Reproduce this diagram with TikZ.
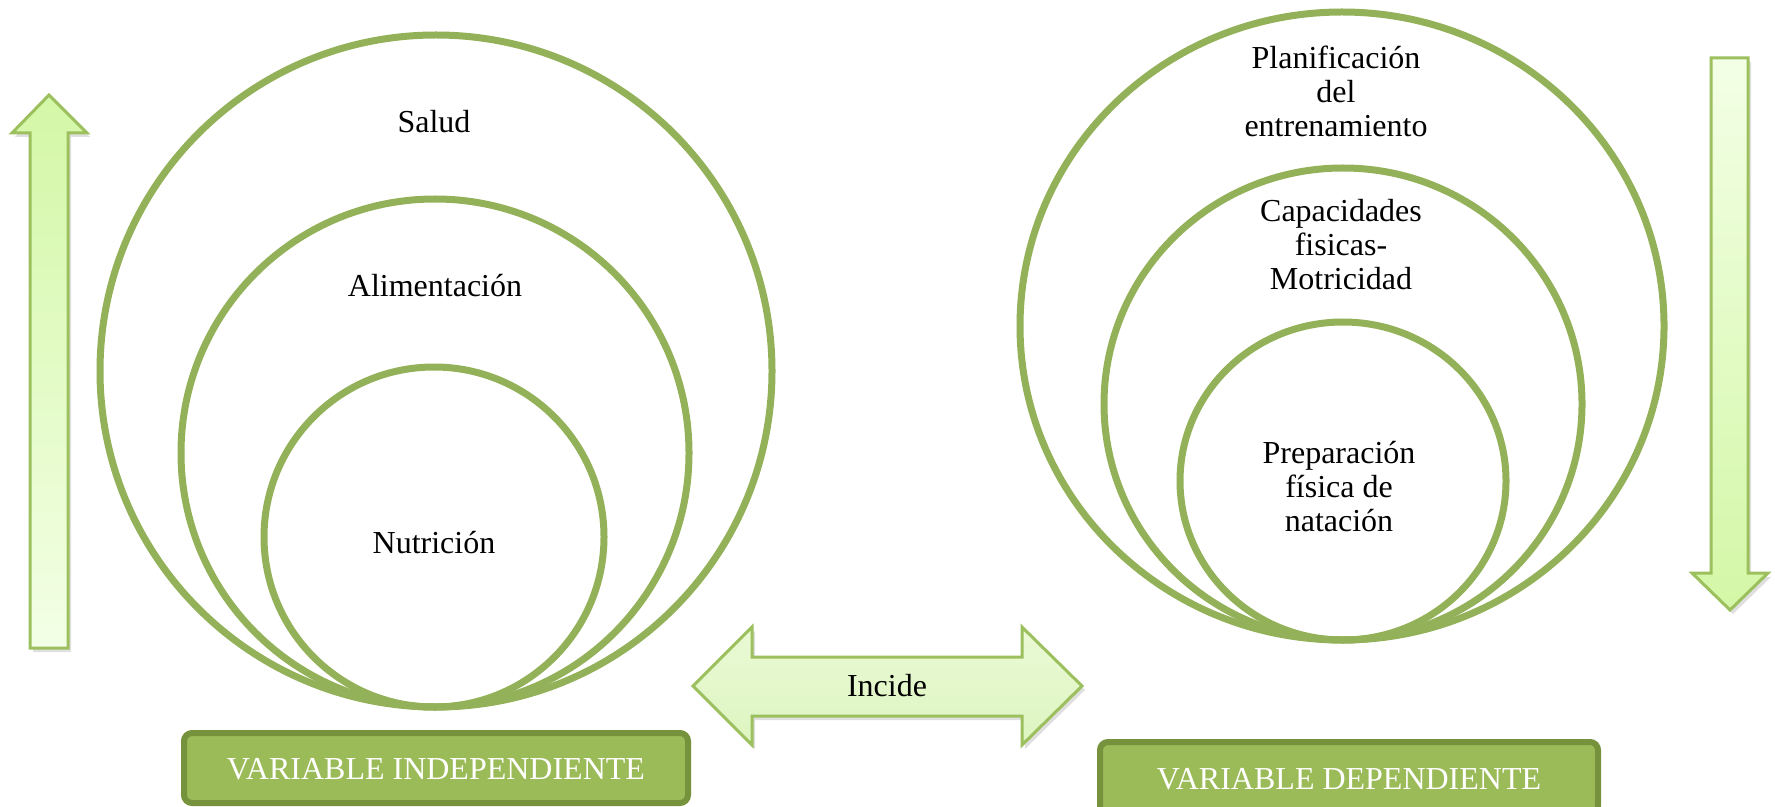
\documentclass[tikz,border=0pt]{standalone}
\usepackage{fontspec}
\setmainfont{Liberation Serif}
\usetikzlibrary{shadows}

\definecolor{ringgreen}{HTML}{93B158}
\definecolor{boxfill}{HTML}{9BBB59}
\definecolor{boxline}{HTML}{76923C}
\definecolor{arrowline}{HTML}{9DC05E}
\definecolor{arrowdark}{HTML}{D3F7A6}
\definecolor{arrowlight}{HTML}{F3FFE6}
\definecolor{incidetop}{HTML}{EAFAD5}
\definecolor{incidebot}{HTML}{DDF5C0}

\tikzset{
  ring/.style={draw=ringgreen,line width=3.5pt},
  txt/.style={font=\fontsize{16}{17}\selectfont,align=center,inner sep=0pt},
  varbox/.style={draw=boxline,fill=boxfill,line width=3pt,rounded corners=4pt},
  blockarrow/.style={draw=arrowline,line width=1.5pt,line join=miter,
    drop shadow={shadow xshift=1.5pt,shadow yshift=-2pt,opacity=.25}}
}

\begin{document}
\begin{tikzpicture}[x=0.5pt,y=-0.5pt]
\useasboundingbox (0,0) rectangle (1775,807);

% variable independiente
\begin{scope}
\coordinate (big) at (436,371);
\coordinate (mid) at (435,453);
\coordinate (small) at (434,537);

\draw[ring] (big) circle [radius=336];
\draw[ring] (mid) circle [radius=254];
\draw[ring] (small) circle [radius=170];

\node[txt] (salud) at (434,122) {Salud};
\node[txt] (alim) at (435,286) {Alimentación};
\node[txt] (nutri) at (434,543) {Nutrición};

\draw[blockarrow,top color=arrowdark,bottom color=arrowlight]
  (30,648) -- (30,133) -- (12,133) -- (49,95) -- (87,133) -- (68,133) -- (68,648) -- cycle;

\draw[varbox] (184,733) rectangle (688,803);
\node[txt,text=white] (vi) at (436,769) {VARIABLE INDEPENDIENTE};
\end{scope}

% variable dependiente
\begin{scope}
\coordinate (bigr) at (1342,326);
\coordinate (midr) at (1343,404);
\coordinate (smallr) at (1343,481);

\draw[ring] (bigr) ellipse [x radius=322,y radius=314];
\draw[ring] (midr) ellipse [x radius=239,y radius=236];
\draw[ring] (smallr) ellipse [x radius=163,y radius=159];

\node[txt] (plan) at (1336,91) {Planificación\\del\\entrenamiento};
\node[txt] (capac) at (1341,245) {Capacidades\\fisicas-\\Motricidad};
\node[txt] (prep) at (1339,487) {Preparación\\física de\\natación};

\draw[blockarrow,top color=arrowlight,bottom color=arrowdark]
  (1711,58) -- (1748,58) -- (1748,573) -- (1768,573) -- (1730,610) -- (1692,573) -- (1711,573) -- cycle;

\draw[varbox] (1100,742) rectangle (1598,814);
\node[txt,text=white] (vd) at (1349,779) {VARIABLE DEPENDIENTE};
\end{scope}

% incide
\draw[blockarrow,top color=incidetop,bottom color=incidebot]
  (693,686) -- (752,627) -- (752,657) -- (1022,657) -- (1022,627) -- (1082,686)
  -- (1022,745) -- (1022,716) -- (752,716) -- (752,745) -- cycle;
\node[txt] (incide) at (887,686) {Incide};

\end{tikzpicture}
\end{document}
